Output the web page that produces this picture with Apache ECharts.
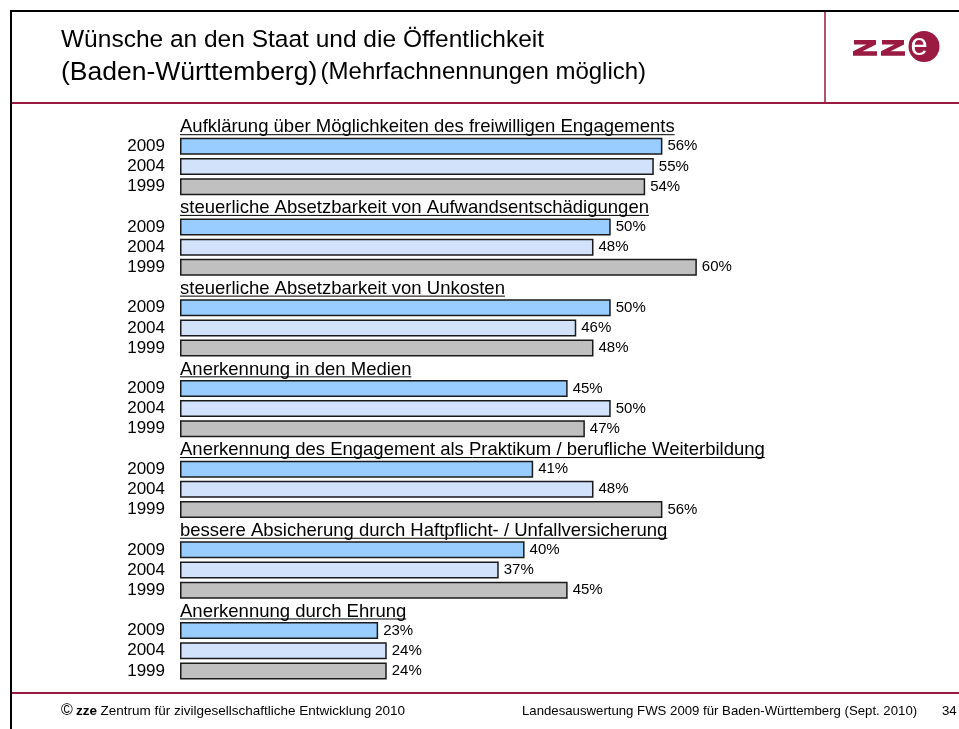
<!DOCTYPE html>
<html>
<head>
<meta charset="utf-8">
<script src="https://cdn.jsdelivr.net/npm/echarts@6/dist/echarts.min.js"></script>
<style>
  html, body { margin: 0; padding: 0; background: #fff; }
  #chart { width: 959px; height: 729px; }
</style>
</head>
<body>
<div id="chart"></div>
<script>
const topics = [
  'Aufklärung über Möglichkeiten des freiwilligen Engagements',
  'steuerliche Absetzbarkeit von Aufwandsentschädigungen',
  'steuerliche Absetzbarkeit von Unkosten',
  'Anerkennung in den Medien',
  'Anerkennung des Engagement als Praktikum / berufliche Weiterbildung',
  'bessere Absicherung durch Haftpflicht- / Unfallversicherung',
  'Anerkennung durch Ehrung'
]
const years = ['2009', '2004', '1999']
const values2009 = [56, 50, 50, 45, 41, 40, 23]
const values2004 = [55, 48, 46, 50, 48, 37, 24]
const values1999 = [54, 60, 48, 47, 56, 45, 24]

const FONT = '"Liberation Sans", Arial, Helvetica, sans-serif'
const MAROON = '#9a1a42'
const barColors = ['#99ccff', '#d2e2fb', '#c0c0c0']

// 4 slots per topic: header row + one row per year
const slots = []
topics.forEach((t, i) => {
  slots.push(i + '|')
  years.forEach(y => slots.push(i + '|' + y))
})

const yearValues = [values2009, values2004, values1999]
const barSeries = years.map((y, k) => {
  const data = slots.map(() => '-')
  topics.forEach((t, i) => { data[i * 4 + 1 + k] = yearValues[k][i] })
  return {
    name: y,
    type: 'bar',
    data: data,
    barWidth: 17,
    barGap: '-100%',
    itemStyle: { color: barColors[k], borderColor: '#1a1a1a', borderWidth: 1.5 },
    label: {
      show: true,
      position: 'right',
      distance: 5,
      formatter: '{c}%',
      color: '#000',
      fontFamily: FONT,
      fontSize: 15
    },
    silent: true
  }
})

const measureCtx = document.createElement('canvas').getContext('2d')
const headerFont = '18.5px ' + FONT

// z letter of the logo, local coords
const zShape = [[1, 0], [23, 0], [23, 4.5], [9.5, 11.2], [24, 11.2], [24, 15.7], [0, 15.7], [0, 11.2], [13.5, 4.5], [1, 4.5]]

const chart = echarts.init(document.getElementById('chart'))
chart.setOption({
  animation: false,
  grid: { left: 180, right: 176, top: 116, height: 565 },
  xAxis: { type: 'value', min: 0, max: 70, show: false },
  yAxis: {
    type: 'category',
    data: slots,
    inverse: true,
    axisLine: { show: false },
    axisTick: { show: false },
    splitLine: { show: false },
    axisLabel: {
      margin: 15,
      color: '#000',
      fontFamily: FONT,
      fontSize: 17,
      interval: 0,
      formatter: v => v.split('|')[1]
    }
  },
  series: [
    ...barSeries,
    {
      type: 'custom',
      silent: true,
      data: topics.map((t, i) => [0, i * 4, i]),
      encode: { x: 0, y: 1 },
      renderItem: (params, api) => {
        const p = api.coord([api.value(0), api.value(1)])
        const text = topics[api.value(2)]
        measureCtx.font = headerFont
        const w = measureCtx.measureText(text).width
        return {
          type: 'group',
          children: [
            {
              type: 'text',
              style: {
                x: p[0], y: p[1] + 10.8, text: text,
                font: headerFont, fill: '#000',
                verticalAlign: 'bottom', align: 'left'
              }
            },
            {
              type: 'line',
              shape: { x1: p[0], y1: p[1] + 8.6, x2: p[0] + w, y2: p[1] + 8.6 },
              style: { stroke: '#000', lineWidth: 1 }
            }
          ]
        }
      }
    }
  ],
  graphic: [
    // slide frame
    { type: 'line', shape: { x1: 10, y1: 11, x2: 959, y2: 11 }, style: { stroke: '#000', lineWidth: 2 } },
    { type: 'line', shape: { x1: 11, y1: 10, x2: 11, y2: 729 }, style: { stroke: '#000', lineWidth: 2 } },
    { type: 'line', shape: { x1: 12, y1: 103, x2: 959, y2: 103 }, style: { stroke: MAROON, lineWidth: 2 } },
    { type: 'line', shape: { x1: 825, y1: 12, x2: 825, y2: 103 }, style: { stroke: MAROON, lineWidth: 1.5 } },
    { type: 'line', shape: { x1: 12, y1: 693, x2: 959, y2: 693 }, style: { stroke: MAROON, lineWidth: 2 } },
    // title
    {
      type: 'text', left: 61, top: 28,
      style: { text: 'Wünsche an den Staat und die Öffentlichkeit', font: '24.5px ' + FONT, fill: '#000' }
    },
    {
      type: 'text', left: 61, top: 59,
      style: {
        text: '{a|(Baden-Württemberg)} {b|(Mehrfachnennungen möglich)}',
        rich: {
          a: { fontSize: 26.5, fontFamily: FONT, color: '#000' },
          b: { fontSize: 24, fontFamily: FONT, color: '#000' }
        }
      }
    },
    // logo
    { type: 'polygon', x: 853, y: 40, shape: { points: zShape }, style: { fill: MAROON } },
    { type: 'polygon', x: 881, y: 40, shape: { points: zShape }, style: { fill: MAROON } },
    { type: 'circle', shape: { cx: 924, cy: 46.5, r: 15.5 }, style: { fill: MAROON } },
    {
      type: 'text', x: 919, y: 46,
      style: { text: 'e', font: '31px ' + FONT, fill: '#fff', align: 'center', verticalAlign: 'middle' }
    },
    // footer
    {
      type: 'text', left: 61, top: 703,
      style: {
        text: '{c|©} {z|zze} {t|Zentrum für zivilgesellschaftliche Entwicklung 2010}',
        rich: {
          c: { fontSize: 16, fontFamily: FONT, color: '#000' },
          z: { fontSize: 13.5, fontFamily: FONT, fontWeight: 'bold', color: '#000' },
          t: { fontSize: 13.5, fontFamily: FONT, color: '#000' }
        }
      }
    },
    {
      type: 'text', left: 522, top: 705,
      style: { text: 'Landesauswertung FWS 2009 für Baden-Württemberg (Sept. 2010)', font: '13.2px ' + FONT, fill: '#000' }
    },
    {
      type: 'text', left: 942, top: 705,
      style: { text: '34', font: '13.2px ' + FONT, fill: '#000' }
    }
  ]
})
</script>
</body>
</html>
